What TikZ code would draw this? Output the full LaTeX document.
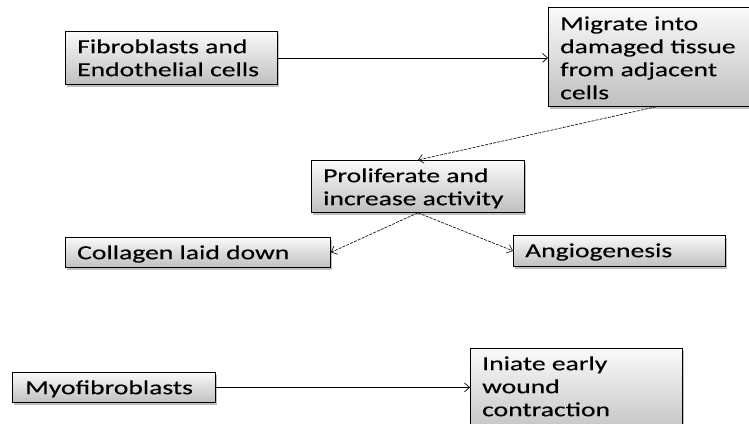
\documentclass[tikz,border=0pt]{standalone}
\usepackage{fontspec}
\setmainfont[FakeStretch=1.38,FakeBold=0.3]{Carlito}
\usetikzlibrary{arrows.meta,shadows,calc}
\begin{document}
\begin{tikzpicture}[x=1pt,y=-1pt,
  box/.style={draw=black, line width=0.8pt, rectangle, inner sep=0pt, anchor=north west,
    top color=white!96!gray, bottom color=black!25,
    drop shadow={shadow xshift=2pt, shadow yshift=-3pt, fill=black!45, opacity=0.55}},
  txt/.style={anchor=north west, inner sep=0pt, align=left, text=black,
    font=\fontsize{20}{23}\selectfont},
  arr/.style={line width=0.7pt, -{Straight Barb[length=5pt,width=9pt,line width=0.7pt]}},
  darr/.style={arr, dash pattern=on 3pt off 1.2pt, draw=black!90}]
\useasboundingbox[fill=white] (0,0) rectangle (749,423);

% boxes
\node[box, minimum width=212pt, minimum height=53pt] (fib) at (65,31) {};
\node[box, minimum width=215pt, minimum height=99pt] (mig) at (548,7) {};
\node[box, minimum width=213pt, minimum height=52pt] (pro) at (311,160) {};
\node[box, minimum width=265pt, minimum height=30pt] (col) at (65,237) {};
\node[box, minimum width=212pt, minimum height=31pt] (ang) at (513,235) {};
\node[box, minimum width=203pt, minimum height=30pt] (myo) at (12,372) {};
\node[box, minimum width=212pt, minimum height=90pt] (ini) at (470,348) {};

% texts
\newcommand{\st}{\rule{0pt}{16pt}}
\node[txt] (tfib) at ($(fib.north west)+(12,6)$) {\st Fibroblasts and\\Endothelial cells};
\node[txt] (tmig) at ($(mig.north west)+(12,7)$) {\st Migrate into\\damaged tissue\\from adjacent\\cells};
\node[txt] (tpro) at ($(pro.north west)+(12,6)$) {\st Proliferate and\\increase activity};
\node[txt] (tcol) at ($(col.north west)+(12,6)$) {\st Collagen laid down};
\node[txt] (tang) at ($(ang.north west)+(12,6)$) {\st Angiogenesis};
\node[txt] (tmyo) at ($(myo.north west)+(13,6)$) {\st Myofibroblasts};
\node[txt] (tini) at ($(ini.north west)+(12,6)$) {\st Iniate early\\wound\\contraction};

% connectors
\draw[arr] (fib.east) -- (fib.east -| mig.west);
\draw[darr] (mig.south) -- (pro.north);
\draw[darr] (pro.south) -- (col.east);
\draw[darr] (pro.south) -- (ang.west);
\draw[arr] (myo.east) -- (myo.east -| ini.west);
\end{tikzpicture}
\end{document}
